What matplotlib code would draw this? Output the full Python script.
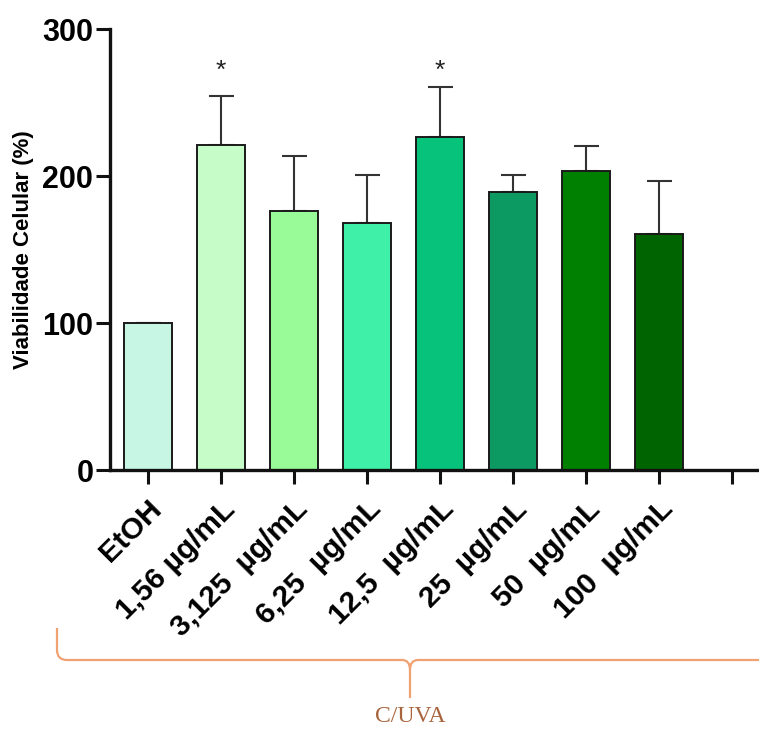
import matplotlib
matplotlib.use("Agg")
import matplotlib.pyplot as plt
from matplotlib.path import Path
from matplotlib.patches import PathPatch
import numpy as np

categories = ["EtOH", "1,56 µg/mL", "3,125  µg/mL", "6,25  µg/mL", "12,5  µg/mL",
              "25  µg/mL", "50  µg/mL", "100  µg/mL"]
values = [100, 221.5, 176, 168, 227, 189, 203.5, 160.5]
errors = [0, 33, 38, 33, 34, 12, 17, 36]
colors = ["#c8f6e4", "#c6fcc8", "#98fb98", "#3ef0a8", "#07c27a", "#0d9a62", "#008000", "#006400"]
significant = [False, True, False, False, True, False, False, False]
yticks = [0, 100, 200, 300]
ylabel = "Viabilidade Celular (%)"
group_label = "C/UVA"

W, H = 759, 731
fig = plt.figure(figsize=(W / 100, H / 100), dpi=100)
plt.rcParams['font.family'] = ['Liberation Sans', 'DejaVu Sans']

ax = fig.add_axes([110 / W, 1 - 470 / H, 649 / W, (470 - 29.3) / H])
x = np.arange(len(categories))
ax.bar(x, values, width=0.66, color=colors, edgecolor="#1a1a1a", linewidth=1.4, zorder=2)
ax.errorbar(x, values, yerr=[np.zeros(len(errors)), errors], fmt="none",
            ecolor="#333333", elinewidth=1.5, capsize=9, capthick=1.5, zorder=1)
for xi, v, e, s in zip(x, values, errors, significant):
    if s:
        ax.text(xi, 272, "*", ha="center", va="center", fontsize=19, color="#222222")

ax.set_xlim(-0.515, 8.375)
ax.set_ylim(0, 300)
ax.set_xticks(list(x) + [8])
ax.set_xticklabels(categories + [""], rotation=45, ha="right", va="top",
                   rotation_mode="anchor", fontsize=21.5, fontweight="bold")
ax.set_yticks(yticks)
ax.set_yticklabels([str(t) for t in yticks], fontsize=22, fontweight="bold")
ax.tick_params(axis="both", length=10, width=2.2, color="#111111")
ax.tick_params(axis="x", pad=8)
ax.tick_params(axis="y", pad=2)
for sp in ["top", "right"]:
    ax.spines[sp].set_visible(False)
for sp in ["left", "bottom"]:
    ax.spines[sp].set_linewidth(2.4)
    ax.spines[sp].set_color("#111111")
ax.set_ylabel(ylabel, fontsize=16, fontweight="bold", labelpad=6)

# brace under the x labels
def P(px, py):
    return (px / W, 1 - py / H)

verts = [P(57, 628), P(57, 650), P(57, 660), P(67, 660), P(402, 660), P(410, 660), P(410, 670),
         P(410, 698), P(410, 670), P(410, 660), P(418, 660), P(775, 660)]
codes = [Path.MOVETO, Path.LINETO, Path.CURVE3, Path.CURVE3, Path.LINETO, Path.CURVE3, Path.CURVE3,
         Path.LINETO, Path.MOVETO, Path.CURVE3, Path.CURVE3, Path.LINETO]
brace = PathPatch(Path(verts, codes), transform=fig.transFigure, fill=False,
                  edgecolor="#f0a273", linewidth=1.6)
fig.patches.append(brace)
fig.text(410 / W, 1 - 717 / H, group_label, ha="center", va="center", fontsize=17,
         family="Liberation Serif", color="#a8643c")

fig.savefig("out.png", dpi=100)
